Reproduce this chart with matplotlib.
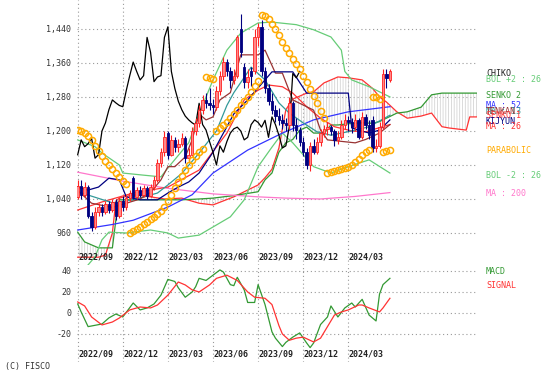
import numpy as np
import matplotlib
matplotlib.use("Agg")
from matplotlib import pyplot as plt

# weekly candles, week 0 = first week of 2022/09
opens = [1045, 1070, 1050, 1068, 1000, 975, 1010, 1022, 1010, 1028, 1015, 1032, 1000, 1035, 1020,
         1042, 1090, 1045, 1062, 1050, 1065, 1048, 1068, 1085, 1125, 1150, 1195, 1144, 1179, 1163,
         1170, 1183, 1136, 1144, 1200, 1219, 1250, 1273, 1266, 1260, 1257, 1295, 1330, 1362, 1340,
         1320, 1330, 1440, 1350, 1316, 1340, 1340, 1420, 1445, 1340, 1300, 1270, 1250, 1235, 1226,
         1219, 1214, 1265, 1215, 1202, 1175, 1150, 1120, 1165, 1150, 1175, 1195, 1205, 1209, 1200,
         1179, 1185, 1215, 1226, 1220, 1209, 1225, 1185, 1233, 1215, 1225, 1160, 1165, 1210, 1335,
         1320]
highs = [1085, 1085, 1080, 1072, 1010, 1020, 1030, 1028, 1035, 1035, 1040, 1040, 1045, 1048, 1050,
         1060, 1095, 1068, 1070, 1072, 1070, 1075, 1095, 1135, 1160, 1200, 1200, 1190, 1185, 1180,
         1195, 1188, 1160, 1210, 1230, 1260, 1285, 1290, 1300, 1275, 1305, 1340, 1375, 1370, 1350,
         1345, 1425, 1475, 1360, 1345, 1350, 1440, 1455, 1460, 1350, 1310, 1290, 1260, 1255, 1240,
         1230, 1280, 1270, 1230, 1210, 1185, 1160, 1175, 1180, 1185, 1205, 1215, 1220, 1215, 1205,
         1200, 1225, 1240, 1235, 1230, 1240, 1230, 1245, 1240, 1225, 1235, 1180, 1220, 1345, 1345,
         1345]
lows = [1040, 1040, 1045, 995, 965, 970, 1000, 1000, 1005, 1008, 1010, 990, 995, 1012, 1015,
        1035, 1040, 1040, 1045, 1045, 1040, 1045, 1060, 1080, 1115, 1140, 1135, 1140, 1150, 1150,
        1165, 1125, 1130, 1140, 1190, 1210, 1240, 1255, 1250, 1240, 1250, 1285, 1320, 1330, 1300,
        1310, 1325, 1375, 1300, 1300, 1305, 1335, 1400, 1330, 1290, 1260, 1240, 1220, 1215, 1205,
        1200, 1205, 1200, 1180, 1165, 1140, 1110, 1105, 1145, 1145, 1165, 1185, 1190, 1190, 1165,
        1170, 1180, 1205, 1200, 1195, 1200, 1180, 1180, 1205, 1180, 1150, 1150, 1160, 1205, 1300,
        1315]
closes = [1070, 1050, 1068, 1000, 975, 1010, 1022, 1010, 1028, 1015, 1032, 1000, 1035, 1020, 1042,
          1055, 1045, 1062, 1050, 1065, 1048, 1068, 1085, 1125, 1150, 1185, 1144, 1179, 1163, 1170,
          1183, 1136, 1144, 1200, 1219, 1250, 1273, 1266, 1260, 1257, 1295, 1330, 1362, 1340, 1320,
          1330, 1420, 1385, 1316, 1327, 1330, 1420, 1445, 1340, 1300, 1270, 1250, 1235, 1226, 1219,
          1214, 1265, 1215, 1202, 1175, 1150, 1120, 1165, 1150, 1175, 1195, 1205, 1209, 1200, 1179,
          1185, 1215, 1226, 1220, 1209, 1225, 1185, 1233, 1215, 1190, 1160, 1165, 1210, 1335, 1325,
          1340]

# indicator lines: (week, value)
ma13_wk = [0, 10, 16, 23, 26, 30, 35, 40, 43, 45, 50, 54, 58, 61, 65, 69, 73, 79, 84, 90]
ma13 = [1057, 1031, 1038, 1054, 1073, 1100, 1148, 1200, 1260, 1290, 1350, 1320, 1266, 1242, 1219,
        1198, 1190, 1200, 1210, 1237]
ma26_wk = [0, 7, 16, 26, 35, 43, 48, 52, 55, 59, 62, 66, 70, 74, 79, 83, 90]
ma26 = [1014, 1033, 1054, 1068, 1108, 1195, 1273, 1296, 1308, 1304, 1289, 1257, 1230, 1210, 1200,
        1198, 1215]
ma52_wk = [0, 10, 16, 26, 33, 39, 49, 59, 68, 78, 90]
ma52 = [967, 980, 990, 1021, 1050, 1101, 1155, 1195, 1226, 1245, 1257]
ma200_wk = [0, 13, 26, 39, 52, 60, 70, 80, 90]
ma200 = [1103, 1082, 1065, 1052, 1045, 1042, 1040, 1046, 1055]
bolu_wk = [0, 5, 7, 12, 13, 19, 24, 26, 32, 35, 39, 43, 47, 52, 56, 63, 68, 73, 76, 77, 79, 84, 90]
bolu = [1179, 1163, 1148, 1120, 1101, 1096, 1092, 1113, 1172, 1240, 1320, 1390, 1430, 1454, 1456,
        1450, 1438, 1421, 1390, 1340, 1320, 1304, 1280]
bold_wk = [3, 5, 7, 9, 14, 21, 26, 29, 35, 44, 48, 52, 56, 59, 62, 68, 73, 78, 84, 90]
bold = [885, 904, 944, 962, 960, 967, 960, 948, 955, 998, 1038, 1116, 1162, 1195, 1172, 1116, 1101,
        1116, 1132, 1101]
tenkan_wk = [0, 4, 10, 14, 18, 21, 24, 26, 28, 31, 33, 35, 37, 39, 41, 44, 47, 52, 54, 57, 59, 62,
             68, 70, 72, 80, 83, 87, 90]
tenkan = [1060, 1030, 1020, 1030, 1040, 1055, 1085, 1116, 1116, 1139, 1179, 1240, 1226, 1233, 1273,
          1290, 1379, 1379, 1390, 1336, 1336, 1273, 1249, 1202, 1179, 1172, 1180, 1195, 1215]
kijun_wk = [0, 3, 6, 9, 12, 14, 18, 23, 26, 29, 32, 35, 39, 42, 45, 49, 56, 62, 66, 78, 79, 84, 87, 90]
kijun = [1068, 1061, 1068, 1089, 1085, 1045, 1038, 1038, 1054, 1068, 1080, 1101, 1150, 1195, 1240,
         1273, 1339, 1339, 1289, 1289, 1207, 1195, 1202, 1226]
senko_wk = [0, 2, 6, 8, 10, 11, 12, 16, 21, 25, 30, 35, 39, 45, 52, 54, 56, 58, 60, 62, 64, 66, 68,
            71, 73, 75, 78, 82, 85, 87, 89, 92, 95, 99, 102, 105, 107, 112, 113, 116]
senko1 = [903, 903, 903, 908, 960, 1035, 1042, 1050, 1045, 1040, 1042, 1030, 1026, 1045, 1073, 1090,
          1110, 1160, 1250, 1275, 1282, 1289, 1292, 1313, 1320, 1327, 1325, 1320, 1300, 1280, 1268,
          1245, 1230, 1235, 1242, 1210, 1207, 1202, 1233, 1233]
senko2 = [962, 939, 925, 925, 925, 990, 1038, 1038, 1038, 1038, 1038, 1040, 1042, 1048, 1057, 1085,
          1101, 1150, 1172, 1180, 1202, 1209, 1195, 1195, 1214, 1214, 1217, 1219, 1218, 1222, 1230,
          1242, 1245, 1256, 1285, 1289, 1289, 1289, 1289, 1289]
sar_wk = list(range(0, 15)) + list(range(15, 37)) + [37, 38, 39] + list(range(40, 53)) \
    + list(range(53, 72)) + list(range(72, 85)) + [85, 86, 87] + [88, 89, 90]
sar = [1202, 1200, 1195, 1188, 1178, 1165, 1152, 1140, 1130, 1120, 1110, 1100, 1092, 1083, 1075,
       960, 965, 970, 975, 980, 986, 992, 998, 1005, 1012, 1022, 1035, 1050, 1065, 1080, 1095, 1108,
       1120, 1132, 1142, 1150, 1157,
       1328, 1325, 1322,
       1200, 1207, 1214, 1222, 1230, 1240, 1250, 1260, 1270, 1280, 1292, 1305, 1318,
       1473, 1470, 1463, 1452, 1440, 1425, 1410, 1396, 1383, 1370, 1357, 1345, 1330, 1315, 1298,
       1282, 1266, 1248, 1230,
       1102, 1104, 1106, 1108, 1110, 1112, 1115, 1120, 1126, 1134, 1143, 1150, 1155,
       1280, 1280, 1275,
       1151, 1153, 1156]
macd_wk = [0, 1, 3, 7, 9, 11, 13, 16, 18, 20, 22, 24, 26, 28, 29, 31, 33, 34, 35, 37, 39, 41, 42, 44,
           45, 46, 48, 49, 51, 52, 54, 56, 57, 59, 60, 62, 64, 66, 67, 68, 70, 72, 73, 75, 77, 79, 80,
           82, 84, 86, 87, 88, 90]
macd = [8.6, 1, -13, -10.5, -4.7, -1, -3.8, 9.5, 2.9, 4.8, 8.6, 17, 32, 30, 24, 15, 20, 25, 33, 31,
        36, 41, 39, 27, 26, 34, 22, 10, 10, 27, 8, -18, -24, -32, -28, -23, -19, -28.6, -33, -28.6,
        -11, -3.8, 6.7, -3.8, 4.8, 9.5, 5.7, 13, -2, -7.6, 18, 27, 33]
signal_wk = [0, 2, 4, 7, 10, 12, 15, 18, 21, 23, 26, 29, 31, 33, 35, 38, 40, 43, 46, 49, 51, 54, 56,
             57, 58, 59, 61, 63, 65, 68, 70, 72, 74, 76, 78, 81, 82, 84, 87, 88, 90]
signal = [10.5, 6.7, -3.8, -11.4, -8.6, -4.8, 2.9, 5.7, 4.8, 7.6, 17, 29.5, 26.7, 22, 20, 26.7, 33,
          36, 31, 20, 15, 14, 8, -2, -12, -20, -26, -24, -23, -27.6, -24, -13, -2, 1, 2.9, 7.6, 7.6,
          4.8, 1, 4.8, 14]

tick_wk = [0, 13, 26, 39, 52, 65, 78]
tick_lab = ["2022/09", "2022/12", "2023/03", "2023/06", "2023/09", "2023/12", "2024/03"]
price_ticks = [960, 1040, 1120, 1200, 1280, 1360, 1440]
macd_ticks = [40, 20, 0, -20]

W, H = 555, 379
fig = plt.figure(figsize=(W / 100, H / 100), dpi=100)
plt.rcParams['font.family'] = 'DejaVu Sans Mono'
plt.rcParams['hatch.linewidth'] = 0.5

ax = fig.add_axes([77 / W, 1 - 265 / H, 400 / W, 265 / H])
mx = fig.add_axes([77 / W, 1 - 362 / H, 400 / W, 97 / H])

grid = dict(color='#999999', lw=0.8, ls=(0, (1, 2.5)), zorder=0)
for a in (ax, mx):
    a.set_xlim(-0.2, 115.1)
    for s in a.spines.values():
        s.set_visible(False)
    a.set_xticks([])
    for w in tick_wk:
        a.axvline(w, **grid)
    a.tick_params(axis='y', length=0, pad=4, labelsize=6, labelcolor='#333333')

ax.set_ylim(884.7, 1508)
for p in price_ticks:
    ax.axhline(p, **grid)
ax.set_yticks(price_ticks)
ax.set_yticklabels([f"{p:,}" for p in price_ticks])

# ichimoku cloud
ax.fill_between(senko_wk, senko1, senko2, facecolor='none', edgecolor='#cccccc',
                hatch='||||||', linewidth=0, zorder=1)
ax.plot(senko_wk, senko1, color='#ff3333', lw=0.9, zorder=2)
ax.plot(senko_wk, senko2, color='#339933', lw=0.9, zorder=2)

ax.plot(ma200_wk, ma200, color='#ff77cc', lw=0.9, zorder=2)
ax.plot(bolu_wk, bolu, color='#66cc77', lw=0.9, zorder=2)
ax.plot(bold_wk, bold, color='#66cc77', lw=0.9, zorder=2)
ax.plot(ma52_wk, ma52, color='#3333ff', lw=0.9, zorder=2)
ax.plot(ma26_wk, ma26, color='#ff3333', lw=0.9, zorder=2)
ax.plot(ma13_wk, ma13, color='#339999', lw=0.9, zorder=2)
ax.plot(tenkan_wk, tenkan, color='#993333', lw=0.9, zorder=2)
ax.plot(kijun_wk, kijun, color='#000080', lw=0.9, zorder=2)

# chiko span: closes moved back 26 weeks
wk = np.arange(len(closes))
ax.plot(wk[26:] - 26, closes[26:], color='#000000', lw=0.9, zorder=2)

o = np.array(opens)
c = np.array(closes)
up = c >= o
cols = np.where(up, '#ff2222', '#000080')
faces = np.where(up, '#ff8888', '#000080')
ax.vlines(wk, lows, highs, colors=cols, lw=0.8, zorder=3)
ax.bar(wk, np.maximum(np.abs(c - o), 1.5), bottom=np.minimum(o, c), width=0.7,
       color=faces, edgecolor=cols, linewidth=0.6, zorder=3)

ax.plot(sar_wk, sar, ls='none', marker='o', ms=4.4, mfc='none', mec='#ffaa00', mew=1.1, zorder=4)

for w, lab in zip(tick_wk, tick_lab):
    ax.text(w + 0.2, 903.5, lab, fontsize=6, color='#222222', ha='left', va='center',
            fontweight='bold', zorder=5)

# MACD panel
mx.set_ylim(-46.7, 45.7)
for m in macd_ticks:
    mx.axhline(m, **grid)
mx.set_yticks(macd_ticks)
mx.set_yticklabels([str(m) for m in macd_ticks])
mx.plot(macd_wk, macd, color='#339933', lw=0.9)
mx.plot(signal_wk, signal, color='#ff3333', lw=0.9)
for w, lab in zip(tick_wk, tick_lab):
    mx.text(w + 0.2, -39, lab, fontsize=6, color='#222222', ha='left', va='center',
            fontweight='bold')

# right-hand labels, stacked as in the original (some of them overlap there too)
labels = [("CHIKO", '#222222', 73), ("BOL +2 : 26", '#66cc77', 79), ("SENKO 2", '#339933', 95),
          ("MA : 52", '#3333ff', 106), ("MA : 13", '#339999', 111), ("TENKAN", '#993333', 111),
          ("SENKO 1", '#ff3333', 116), ("KIJYUN", '#000080', 121), ("MA : 26", '#ff3333', 127),
          ("PARABOLIC", '#ffaa00', 151), ("BOL -2 : 26", '#66cc77', 176),
          ("MA : 200", '#ff77cc', 194), ("MACD", '#339933', 272), ("SIGNAL", '#ff3333', 285)]
for txt, col, y in labels:
    fig.text(486 / W, 1 - y / H, txt, fontsize=6, color=col, va='center', ha='left')

fig.text(5 / W, 1 - 367 / H, "(C) FISCO", fontsize=6, color='#333333', va='center', ha='left')

fig.savefig("out.png", dpi=100)
